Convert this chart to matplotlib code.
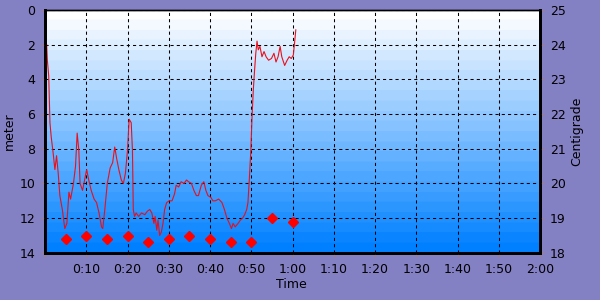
import numpy as np
import matplotlib.pyplot as plt
from matplotlib.colors import LinearSegmentedColormap
from matplotlib.ticker import FuncFormatter, MultipleLocator

# depth profile (minutes, meters)
depth_t = [0.4, 0.57, 0.9, 1.2, 1.5, 2.0, 2.4, 2.8, 3.2, 3.6, 4.2, 4.8, 5.3, 5.8, 6.2,
           6.9, 7.4, 7.8, 8.2, 8.5, 9.1, 9.6, 10.1, 10.6, 11.2, 11.9, 12.5, 13.1, 13.7,
           14.0, 14.5, 15.1, 15.8, 16.4, 16.9, 17.4, 17.9, 18.5, 19.0, 19.5, 20.0, 20.4,
           20.9, 21.2, 21.4, 21.7, 22.1, 22.7, 23.4, 24.2, 24.8, 25.4, 25.9, 26.4, 26.7,
           27.1, 27.4, 27.8, 28.2, 28.6, 29.0, 29.5, 30.1, 30.8, 31.4, 31.8, 32.4, 33.0,
           33.7, 34.3, 34.8, 35.5, 36.1, 36.7, 37.2, 37.9, 38.5, 39.0, 39.5, 40.2, 40.7,
           41.3, 42.1, 42.9, 43.5, 44.1, 44.7, 45.2, 45.6, 46.1, 46.8, 47.4, 47.9, 48.4,
           48.9, 49.2, 49.5, 49.9, 50.2, 50.5, 50.8, 51.1, 51.4, 51.7, 52.1, 52.6, 53.1,
           53.6, 54.2, 54.9, 55.5, 56.0, 56.5, 57.0, 57.4, 58.1, 58.7, 59.2, 59.7, 60.2,
           60.5, 60.8]
depth_m = [2.0, 2.9, 3.8, 6.5, 7.3, 8.3, 9.2, 8.4, 9.4, 10.7, 11.5, 12.6, 12.3, 10.5, 10.9,
           10.0, 9.0, 7.1, 8.1, 10.0, 10.4, 9.8, 9.2, 9.8, 10.4, 10.9, 11.1, 11.7, 12.5,
           12.6, 11.5, 10.0, 9.1, 8.8, 7.9, 8.6, 9.2, 9.8, 10.0, 9.4, 8.1, 6.3,
           6.5, 8.1, 11.5, 11.9, 11.7, 11.9, 11.7, 11.8, 11.6, 11.5, 11.7, 12.3, 11.9,
           12.7, 12.1, 13.0, 12.8, 12.3, 11.5, 11.1, 11.0, 11.0, 10.6, 10.1, 10.2, 9.9,
           10.0, 9.8, 9.9, 10.0, 10.4, 10.7, 10.7, 10.1, 9.9, 10.4, 10.7, 10.8, 11.0,
           11.0, 10.9, 11.1, 11.5, 12.0, 12.3, 12.6, 12.3, 12.5, 12.3, 12.1, 12.0, 11.8,
           11.5, 11.1, 9.9, 8.1, 6.1, 4.6, 3.5, 2.5, 1.8, 2.3, 2.1, 2.7, 2.4,
           2.7, 2.9, 2.8, 2.5, 3.0, 2.7, 2.1, 2.7, 3.2, 2.9, 2.7, 2.8, 2.6,
           1.9, 1.15]

# water temperature samples
temp_t = [5, 10, 15, 20, 25, 30, 35, 40, 45, 50, 55, 60]
temp_c = [18.4, 18.5, 18.4, 18.5, 18.3, 18.4, 18.5, 18.4, 18.3, 18.3, 19.0, 18.9]

bg = '#8480C4'
plt.rcParams['font.family'] = 'DejaVu Sans'
fig = plt.figure(figsize=(6, 3), dpi=100, facecolor=bg)
ax = fig.add_axes([0.075, 0.157, 0.825, 0.81])

# banded white -> blue gradient
cmap = LinearSegmentedColormap.from_list('sea', ['#FFFFFF', '#0080FF'], N=24)
grad = np.linspace(0, 1, 256).reshape(-1, 1)
ax.imshow(grad, aspect='auto', cmap=cmap, extent=[0, 1, 0, 1],
          transform=ax.transAxes, origin='upper', zorder=0)

ax.plot(depth_t, depth_m, color='#E8101C', lw=0.8, zorder=3)
ax.set_xlim(0, 120)
ax.set_ylim(14, 0)
ax.xaxis.set_major_locator(MultipleLocator(10))
ax.yaxis.set_major_locator(MultipleLocator(2))
ax.xaxis.set_major_formatter(FuncFormatter(
    lambda v, p: '' if v == 0 else f'{int(v) // 60}:{int(v) % 60:02d}'))
ax.grid(True, color='black', ls=(0, (3, 3)), lw=0.75)
ax.set_axisbelow(False)
ax.set_ylabel('meter', fontsize=9)
ax.set_xlabel('Time', fontsize=9)
ax.xaxis.set_label_coords(0.497, -0.103)
ax.yaxis.set_label_coords(-0.058, 0.5)
ax.tick_params(labelsize=9, length=3, color='#a08080', pad=4)

ax2 = ax.twinx()
ax2.plot(temp_t, temp_c, ls='none', marker='D', ms=5.5, color='#FF0000', zorder=4)
ax2.set_ylim(18, 25)
ax2.yaxis.set_major_locator(MultipleLocator(1))
ax2.set_ylabel('Centigrade', fontsize=9)
ax2.yaxis.set_label_coords(1.062, 0.5)
ax2.tick_params(labelsize=9, length=3, color='#a08080', pad=4)

for a in (ax, ax2):
    for s in ('left', 'bottom', 'right'):
        a.spines[s].set_linewidth(2)
    a.spines['top'].set_linewidth(1)

fig.savefig('out.png', dpi=100, facecolor=bg)
